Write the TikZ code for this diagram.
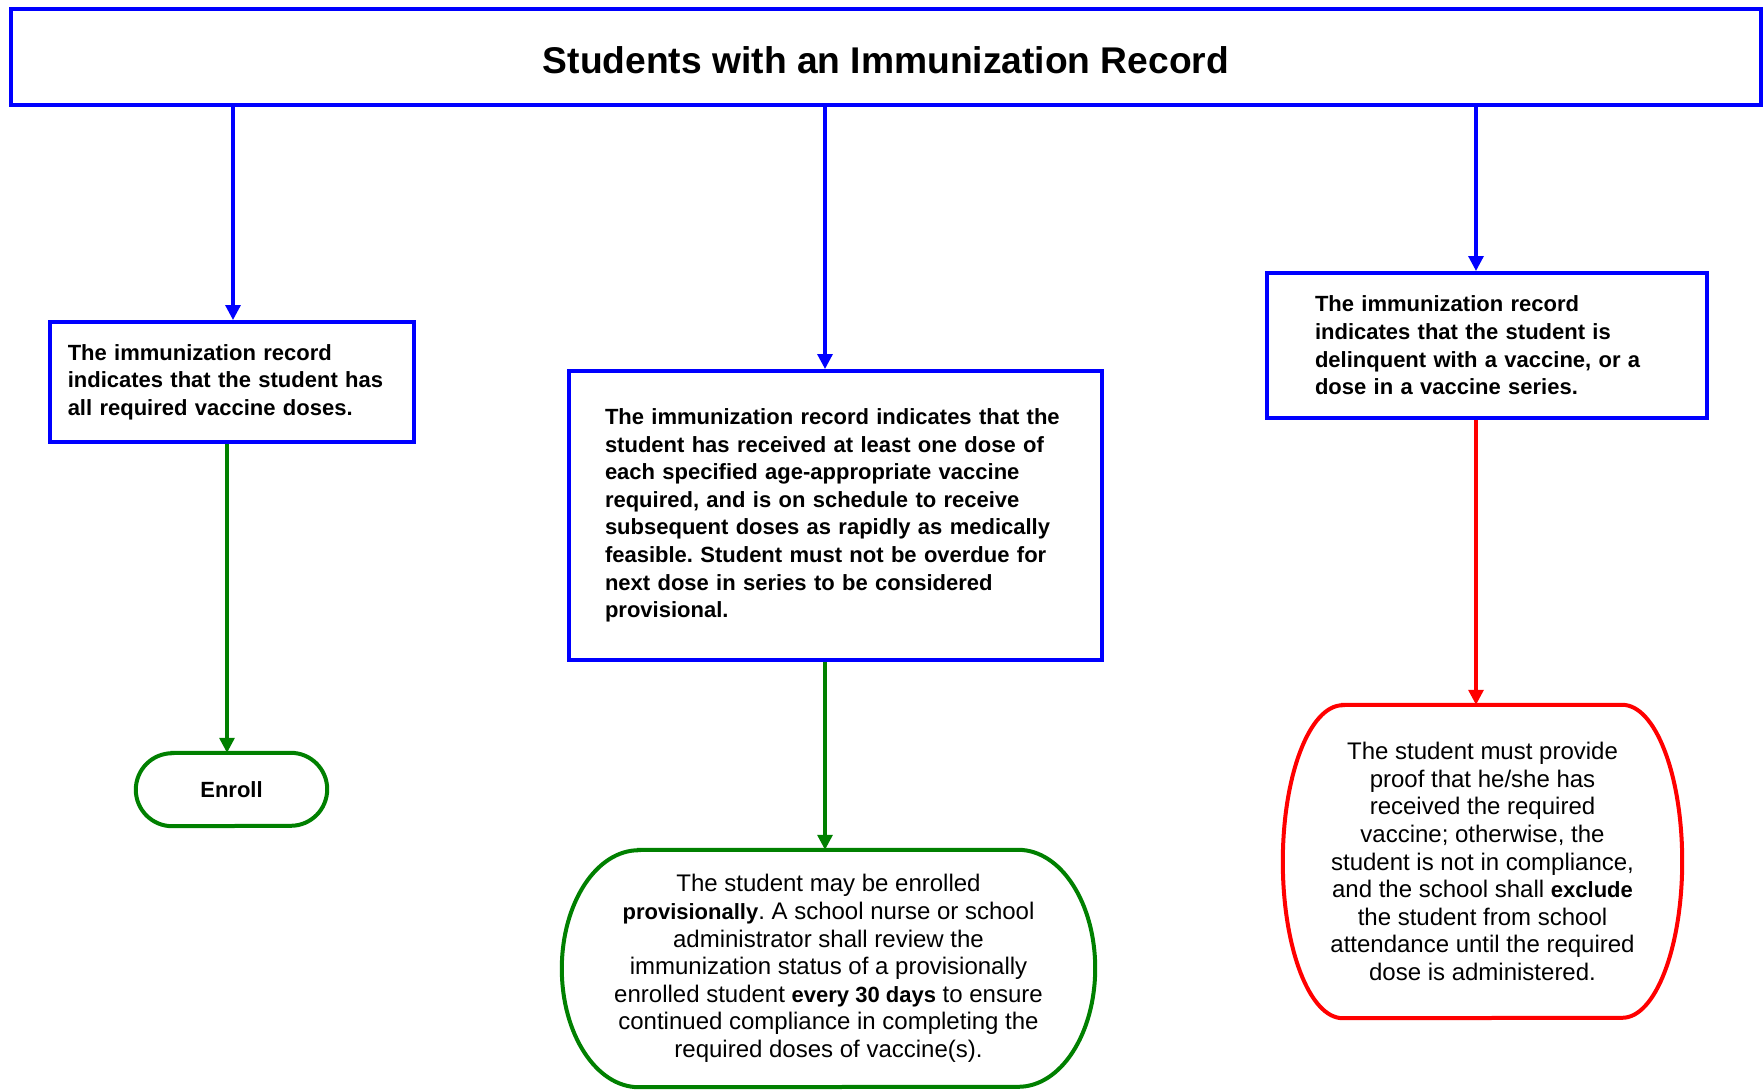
\documentclass[tikz,border=0pt]{standalone}
\usepackage{fontspec}
\setmainfont{Liberation Sans}
\usetikzlibrary{arrows.meta}
\definecolor{bblue}{RGB}{0,0,255}
\definecolor{ggreen}{RGB}{0,128,0}
\definecolor{rred}{RGB}{255,0,0}
\newcommand{\embf}[1]{{\fontsize{22}{27.6}\selectfont\bfseries #1}}
\begin{document}
\frenchspacing
\begin{tikzpicture}[x=1pt,y=-1pt,
  boxb/.style={draw=bblue,line width=4pt,align=left,anchor=center,
    font=\fontsize{22}{27.6}\selectfont\bfseries},
  termtext/.style={align=center,anchor=center,inner sep=0pt,
    font=\fontsize{24}{27.6}\selectfont},
  arr/.style={line width=3.2pt,-{Triangle[length=15pt,width=15pt]}},
  outline/.style={line width=4pt}]
\useasboundingbox[fill=white] (0,0) rectangle (1763,1089);

% title
\node[draw=bblue,line width=4pt,minimum width=1750pt,minimum height=96pt,
  text height=34pt,text depth=0pt,
  font=\fontsize{37.2}{44}\selectfont\bfseries] (title) at (886,57)
  {Students with an Immunization Record};

% decision boxes
\node[boxb,text width=328.5pt,inner xsep=18pt,minimum height=120pt] (b1) at (232,382)
  {The immunization record\\indicates that the student has\\all required vaccine doses.};
\node[boxb,text width=461pt,inner xsep=36pt,minimum height=289pt] (b2) at (835.5,515.5)
  {The immunization record indicates that the\\student has received at least one dose of\\each specified age-appropriate vaccine\\required, and is on schedule to receive\\subsequent doses as rapidly as medically\\feasible. Student must not be overdue for\\next dose in series to be considered\\provisional.};
\node[boxb,text width=344pt,inner xsep=48pt,minimum height=145pt] (b3) at (1487,345.5)
  {The immunization record\\indicates that the student is\\delinquent with a vaccine, or a\\dose in a vaccine series.};

% terminators
\node[termtext,font=\fontsize{22}{26}\selectfont\bfseries,minimum width=191pt,minimum height=73pt] (en) at (231.5,789.5) {Enroll};
\draw[outline,ggreen] ([xshift=36.5pt]en.north west) -- ([xshift=-36.5pt]en.north east)
  arc[start angle=90,end angle=-90,x radius=36.5pt,y radius=36.5pt]
  -- ([xshift=36.5pt]en.south west)
  arc[start angle=270,end angle=90,x radius=36.5pt,y radius=36.5pt] -- cycle;

\node[termtext,minimum width=533pt,minimum height=237pt] (m5) at (828.5,968.5)
  {The student may be enrolled\\\embf{provisionally}. A school nurse or school\\administrator shall review the\\immunization status of a provisionally\\enrolled student \embf{every 30 days} to ensure\\continued compliance in completing the\\required doses of vaccine(s).};
\draw[outline,ggreen] ([xshift=77pt]m5.north west) -- ([xshift=-77pt]m5.north east)
  arc[start angle=90,end angle=-90,x radius=77pt,y radius=118.5pt]
  -- ([xshift=77pt]m5.south west)
  arc[start angle=270,end angle=90,x radius=77pt,y radius=118.5pt] -- cycle;

\node[termtext,minimum width=399pt,minimum height=313pt] (rd) at (1482.5,861.5)
  {The student must provide\\proof that he/she has\\received the required\\vaccine; otherwise, the\\student is not in compliance,\\and the school shall \embf{exclude}\\the student from school\\attendance until the required\\dose is administered.};
\draw[outline,rred] ([xshift=60pt]rd.north west) -- ([xshift=-60pt]rd.north east)
  arc[start angle=90,end angle=-90,x radius=60pt,y radius=156.5pt]
  -- ([xshift=60pt]rd.south west)
  arc[start angle=270,end angle=90,x radius=60pt,y radius=156.5pt] -- cycle;

% connectors
\coordinate (c1) at ([xshift=1pt]b1.north);
\coordinate (c1b) at ([xshift=-5pt]b1.south);
\coordinate (c2) at ([xshift=-10.5pt]b2.north);
\coordinate (c2b) at ([xshift=-10.5pt]b2.south);
\coordinate (c3) at ([xshift=-11pt]b3.north);
\coordinate (c3b) at ([xshift=-11pt]b3.south);

\draw[arr,bblue] (title.south -| c1) -- (c1);
\draw[arr,bblue] (title.south -| c2) -- (c2);
\draw[arr,bblue] (title.south -| c3) -- (c3);
\draw[arr,ggreen] (c1b) -- (c1b |- en.north);
\draw[arr,ggreen] (c2b) -- (c2b |- m5.north);
\draw[arr,rred] (c3b) -- (c3b |- rd.north);
\end{tikzpicture}
\end{document}
